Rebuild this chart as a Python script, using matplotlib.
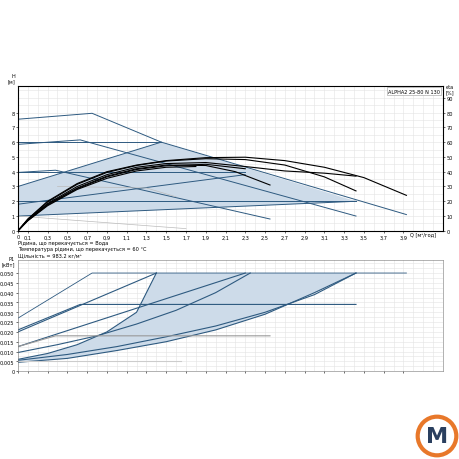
import matplotlib
matplotlib.use('Agg')
import matplotlib.pyplot as plt
from matplotlib.ticker import MultipleLocator, FuncFormatter

# top chart: H [m] vs Q
shade_top_q = [0, 0, 1.45, 3.42]
shade_top_h = [1, 3, 6, 2]
blue_lines = [
    ([0, 0.75, 1.45, 3.93], [7.55, 7.95, 6.0, 1.1]),
    ([0, 0.63, 3.42], [5.85, 6.15, 1.0]),
    ([0, 1.45], [6.0, 6.0]),
    ([0, 0.38, 2.55], [3.95, 4.1, 0.8]),
    ([0, 2.3], [4.0, 4.0]),
    ([0, 3.42], [2.0, 2.0]),
    ([0, 2.3], [1.8, 3.8]),
    ([0, 3.42], [1.0, 2.0]),
    ([0, 1.45], [3.0, 6.0]),
]
grey_lines = [
    ([0, 1.7], [1.0, 0.15]),
    ([0.4, 1.3, 1.6], [3.0, 2.9, 2.3]),
]
eff_curves = [
    ([0, 0.1, 0.3, 0.6, 0.9, 1.2, 1.5, 1.9, 2.3, 2.7, 3.1, 3.5, 3.93],
     [0, 0.8, 2.0, 3.2, 4.0, 4.45, 4.75, 4.95, 4.98, 4.75, 4.3, 3.6, 2.4]),
    ([0, 0.1, 0.3, 0.6, 0.9, 1.2, 1.5, 1.9, 2.3, 2.7, 3.1, 3.42],
     [0, 0.78, 1.95, 3.15, 3.95, 4.42, 4.72, 4.88, 4.82, 4.45, 3.65, 2.7]),
    ([0, 0.1, 0.3, 0.6, 0.9, 1.2, 1.5, 1.9, 2.3, 2.7, 3.1, 3.42],
     [0, 0.75, 1.85, 3.0, 3.8, 4.3, 4.55, 4.62, 4.35, 4.05, 3.9, 3.7]),
    ([0, 0.1, 0.3, 0.6, 0.9, 1.2, 1.5, 1.9, 2.2, 2.55],
     [0, 0.72, 1.8, 2.9, 3.7, 4.2, 4.45, 4.42, 4.0, 3.1]),
    ([0, 0.1, 0.3, 0.6, 0.9, 1.2, 1.5, 1.9, 2.3],
     [0, 0.7, 1.75, 2.85, 3.65, 4.15, 4.4, 4.5, 4.2]),
    ([0, 0.1, 0.3, 0.6, 0.9, 1.2, 1.5, 1.8],
     [0, 0.68, 1.7, 2.8, 3.55, 4.05, 4.3, 4.35]),
]

# bottom chart: P1 [kW] vs Q
shade_bot_q = [0, 0.3, 0.6, 0.9, 1.2, 1.4, 3.42, 3.0, 2.5, 2.0, 1.5, 1.0, 0.5, 0]
shade_bot_p = [0.006, 0.009, 0.0135, 0.02, 0.03, 0.050, 0.050, 0.040, 0.029, 0.021, 0.015, 0.0105, 0.0065, 0.0045]
p_lines = [
    ([0, 0.75, 3.93], [0.027, 0.050, 0.050], 0.6),
    ([0, 0.63, 3.42], [0.021, 0.034, 0.034], 0.8),
    ([0, 1.4], [0.020, 0.050], 0.8),
    ([0, 2.3], [0.0125, 0.050], 0.8),
    ([0, 0.4, 0.8, 1.2, 1.6, 2.0, 2.35], [0.0095, 0.0135, 0.018, 0.024, 0.031, 0.040, 0.050], 0.8),
    ([0, 0.3, 0.6, 0.9, 1.2, 1.4], [0.006, 0.009, 0.0135, 0.02, 0.03, 0.050], 0.8),
    ([0, 0.5, 1.0, 1.5, 2.0, 2.5, 3.0, 3.42], [0.0055, 0.0085, 0.0125, 0.0175, 0.023, 0.030, 0.039, 0.050], 0.8),
    ([0, 0.5, 1.0, 1.5, 2.0, 2.5, 3.0, 3.42], [0.0045, 0.0065, 0.0105, 0.015, 0.021, 0.029, 0.040, 0.050], 0.8),
]
p_grey = [
    ([0, 0.38, 2.55], [0.0125, 0.018, 0.018], '#999999'),
    ([0, 1.65], [0.005, 0.005], '#cccccc'),
]
x_labels = [0, 0.1, 0.3, 0.5, 0.7, 0.9, 1.1, 1.3, 1.5, 1.7, 1.9, 2.1, 2.3, 2.5, 2.7, 2.9, 3.1, 3.3, 3.5, 3.7, 3.9]
h_ticks = [0, 1, 2, 3, 4, 5, 6, 7, 8]
eta_ticks = [0, 10, 20, 30, 40, 50, 60, 70, 80, 90]
p_ticks = [0, 0.005, 0.010, 0.015, 0.020, 0.025, 0.030, 0.035, 0.040, 0.045, 0.050]

blue = '#2e5a80'
fill = '#cddbe9'
fs = 3.6
comma = FuncFormatter(lambda v, p: ('%g' % v).replace('.', ','))

fig = plt.figure(figsize=(4.6, 4.6), dpi=100)

def style(ax, ymax, yminor):
    ax.set_xlim(0, 4.3)
    ax.set_ylim(0, ymax)
    ax.xaxis.set_minor_locator(MultipleLocator(0.1))
    ax.yaxis.set_minor_locator(MultipleLocator(yminor))
    ax.grid(which='both', color='#e3e3e3', lw=0.4)
    ax.tick_params(labelsize=fs, length=1.5, width=0.4, pad=1)
    ax.tick_params(which='minor', length=0)
    for s in ax.spines.values():
        s.set_linewidth(0.4)
        s.set_color('#777777')
    ax.set_axisbelow(True)

ax = fig.add_axes([0.039, 0.496, 0.924, 0.315])
style(ax, 9.8, 0.5)
ax.set_xticks(x_labels)
ax.set_yticks(h_ticks)
ax.xaxis.set_major_formatter(comma)
ax.fill(shade_top_q, shade_top_h, color=fill, lw=0)
for q, h in blue_lines:
    ax.plot(q, h, color=blue, lw=0.7)
for q, h in grey_lines:
    ax.plot(q, h, color='#bbbbbb', lw=0.5)
for q, h in eff_curves:
    ax.plot(q, h, color='black', lw=0.8)
ax.text(-0.03, 10.0, 'H\n[м]', fontsize=fs, ha='right', va='bottom', linespacing=1.0)
ax.text(4.1, -0.02, 'Q [м³/год]', fontsize=fs, va='top', ha='center')
ax.text(4.27, 9.6, 'ALPHA2 25-80 N 130', fontsize=fs, ha='right', va='top',
        bbox=dict(fc='white', ec='#999999', lw=0.4, pad=1))
ax2 = ax.twinx()
ax2.set_ylim(0, 98)
ax2.set_yticks(eta_ticks)
ax2.tick_params(labelsize=fs, length=1.5, width=0.4, pad=1)
ax2.text(4.33, 9.9, 'eta\n[%]', fontsize=fs, ha='left', va='top', linespacing=1.0, transform=ax.transData)
fig.text(0.039, 0.468, 'Рідина, що перекачується = Вода', fontsize=fs)
fig.text(0.039, 0.455, 'Температура рідини, що перекачується = 60 °C', fontsize=fs)
fig.text(0.039, 0.442, 'Щільність = 983.2 кг/м³', fontsize=fs)

bx = fig.add_axes([0.039, 0.191, 0.924, 0.241])
style(bx, 0.0565, 0.0025)
bx.set_xticks(x_labels)
bx.set_yticks(p_ticks)
bx.tick_params(labelbottom=False)
bx.yaxis.set_major_formatter(FuncFormatter(lambda v, p: '0' if v == 0 else ('%.3f' % v).replace('.', ',')))
bx.fill(shade_bot_q, shade_bot_p, color=fill, lw=0)
for q, p, w in p_lines:
    bx.plot(q, p, color=blue, lw=w)
for q, p, c in p_grey:
    bx.plot(q, p, color=c, lw=0.8)
bx.text(-0.03, 0.0535, 'P1\n[кВт]', fontsize=fs, ha='right', va='bottom', linespacing=1.0)

# logo
lg = fig.add_axes([0.9, 0.0, 0.1, 0.1])
lg.set_xlim(0, 1); lg.set_ylim(0, 1); lg.axis('off')
lg.add_patch(plt.Circle((0.5, 0.5), 0.42, fill=False, ec='#e8782a', lw=3))
lg.text(0.5, 0.5, 'M', fontsize=16, fontweight='bold', color='#2a3f5f', ha='center', va='center')

fig.savefig('out.png', dpi=100, facecolor='white')
